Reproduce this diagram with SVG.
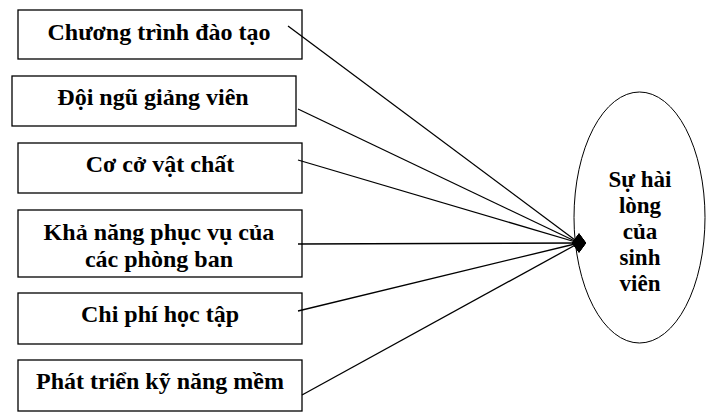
<svg xmlns="http://www.w3.org/2000/svg" width="710" height="420" viewBox="0 0 710 420">
<style>
.box{fill:#fff;stroke:#000;stroke-width:1.3}
.t{font-family:"Liberation Serif","Times New Roman",serif;font-weight:bold;font-size:24px;fill:#000;text-anchor:middle}
.e{font-size:23px}
.c{stroke:#000;stroke-width:1.3;fill:none}
</style>
<defs>
<marker id="dia" viewBox="0 0 14 20" refX="7" refY="10" markerWidth="14" markerHeight="20" markerUnits="userSpaceOnUse" orient="0">
<polygon points="0,10 7,0.5 14,10 7,19.5" fill="#000"/>
</marker>
</defs>
<rect width="710" height="420" fill="#fff"/>
<g id="n1"><rect class="box" x="18" y="10" width="284" height="49"/><text class="t" x="159" y="40">Chương trình đào tạo</text></g>
<g id="n2"><rect class="box" x="12" y="76" width="284" height="50"/><text class="t" x="153" y="105">Đội ngũ giảng viên</text></g>
<g id="n3"><rect class="box" x="18" y="143" width="284" height="50"/><text class="t" x="160" y="172">Cơ cở vật chất</text></g>
<g id="n4"><rect class="box" x="18" y="210" width="284" height="67"/><text class="t" x="159" y="240">Khả năng phục vụ của</text><text class="t" x="159" y="267">các phòng ban</text></g>
<g id="n5"><rect class="box" x="18" y="293" width="284" height="51"/><text class="t" x="160" y="322">Chi phí học tập</text></g>
<g id="n6"><rect class="box" x="18" y="360" width="284" height="51"/><text class="t" x="160" y="389">Phát triển kỹ năng mềm</text></g>
<g id="target"><ellipse cx="639.5" cy="217.5" rx="65.5" ry="125.5" fill="#fff" stroke="#000" stroke-width="1"/>
<text class="t e" x="640" y="187">Sự hài</text><text class="t e" x="640" y="213">lòng</text><text class="t e" x="640" y="239">của</text><text class="t e" x="640" y="265">sinh</text><text class="t e" x="640" y="291">viên</text></g>
<g id="connectors">
<line class="c" x1="288" y1="26" x2="579" y2="243" marker-end="url(#dia)"/>
<line class="c" x1="298" y1="109" x2="579" y2="243" marker-end="url(#dia)"/>
<line class="c" x1="298" y1="160" x2="579" y2="243" marker-end="url(#dia)"/>
<line class="c" x1="298" y1="244" x2="579" y2="243" marker-end="url(#dia)"/>
<line class="c" x1="298" y1="311" x2="579" y2="243" marker-end="url(#dia)"/>
<line class="c" x1="302" y1="395" x2="579" y2="243" marker-end="url(#dia)"/>
</g>
</svg>
